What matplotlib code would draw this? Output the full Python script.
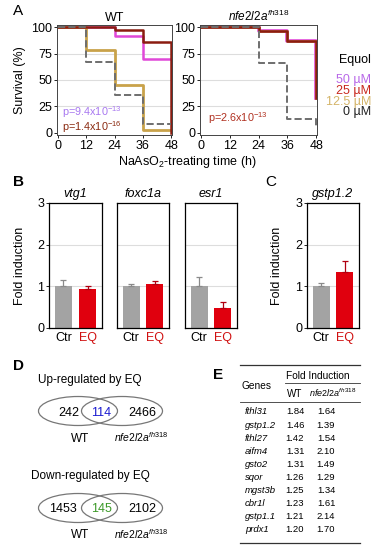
import matplotlib
matplotlib.use('Agg')
import matplotlib.pyplot as plt
from matplotlib.patches import Ellipse

plt.rcParams['font.family'] = ['Liberation Sans', 'DejaVu Sans']
plt.rcParams['mathtext.fontset'] = 'custom'
plt.rcParams['mathtext.rm'] = 'Liberation Sans'
plt.rcParams['mathtext.it'] = 'Liberation Sans:italic'
plt.rcParams['mathtext.bf'] = 'Liberation Sans:bold'

# ---- data ----
hours = [0, 12, 24, 36, 48]
dose_labels = ['50 µM', '25 µM', '12.5 µM', '0 µM']

wt_50 = [100, 100, 92, 70, 70]
wt_25 = [100, 100, 97, 86, 0]
wt_12 = [100, 78, 45, 3, 3]
wt_0 = [100, 67, 36, 8, 8]

nfe_50 = [100, 100, 96, 87, 33]
nfe_25 = [100, 100, 96, 87, 33]
nfe_12 = [100, 100, 96, 87, 33]
nfe_0 = [100, 100, 66, 13, 5]

wt_pvals = ['p=9.4x10$^{-13}$', 'p=1.4x10$^{-16}$']
nfe_pval = 'p=2.6x10$^{-13}$'

bar_genes = ['vtg1', 'foxc1a', 'esr1']
groups = ['Ctr', 'EQ']
ctr_mean = [1.0, 1.0, 1.0]
ctr_err = [0.15, 0.05, 0.23]
eq_mean = [0.93, 1.05, 0.47]
eq_err = [0.07, 0.07, 0.15]

gstp_mean = [1.0, 1.35]
gstp_err = [0.08, 0.25]

venn_up = [242, 114, 2466]
venn_down = [1453, 145, 2102]

tab_genes = ['fthl31', 'gstp1.2', 'fthl27', 'aifm4', 'gsto2', 'sqor',
             'mgst3b', 'cbr1l', 'gstp1.1', 'prdx1']
tab_wt = ['1.84', '1.46', '1.42', '1.31', '1.31', '1.26', '1.25', '1.23', '1.21', '1.20']
tab_nfe = ['1.64', '1.39', '1.54', '2.10', '1.49', '1.29', '1.34', '1.61', '2.14', '1.70']

# ---- style ----
c50, c25, c12, c0 = '#e048d8', '#8b1c10', '#c9a24a', '#6e6e6e'
lab_cols = ['#b868e8', '#c8281e', '#d4b468', '#222222']
gray_bar, red_bar = '#a3a3a3', '#e0000e'
TS = 9

W, H = 375, 550
fig = plt.figure(figsize=(W / 100, H / 100), dpi=100)


def box(x0, y0, x1, y1):
    return [x0 / W, 1 - y1 / H, (x1 - x0) / W, (y1 - y0) / H]


nfe_title = r'$\mathit{nfe2l2a}^{\mathit{fh318}}$'

# ---- panel A ----
def surv_axes(rect, curves, show_ylabel):
    ax = fig.add_axes(rect)
    for vals, col, ls, lw in curves:
        ax.step(hours, vals, where='post', color=col, ls=ls, lw=lw)
    ax.set_xlim(-0.3, 48.3)
    ax.set_ylim(-2, 102)
    ax.set_xticks(hours)
    ax.set_yticks([0, 25, 50, 75, 100])
    for y in [25, 50, 75]:
        ax.axhline(y, color='#dddddd', lw=0.8, zorder=0)
    ax.tick_params(labelsize=TS, length=2, width=0.6, pad=1.5)
    for s in ax.spines.values():
        s.set_linewidth(0.7)
        s.set_color('#444444')
    if show_ylabel:
        ax.set_ylabel('Survival (%)', fontsize=TS)
        ax.yaxis.set_label_coords(-(57 - 26) / 115, 0.5)
    return ax


ax_wt = surv_axes(box(57, 25, 172, 135),
                  [(wt_50, c50, '-', 1.8), (wt_12, c12, '-', 2.0),
                   (wt_25, c25, '-', 1.8), (wt_0, c0, '--', 1.4)], True)
ax_wt.set_title('WT', fontsize=TS, pad=3)
ax_wt.text(2, 21.5, wt_pvals[0], color='#a878f0', fontsize=7.8, va='center_baseline')
ax_wt.text(2, 7, wt_pvals[1], color='#8b2a10', fontsize=7.8, va='center_baseline')

ax_nfe = surv_axes(box(200, 25, 317, 135),
                   [(nfe_50, c50, '-', 2.6), (nfe_12, c12, '-', 1.8),
                    (nfe_25, c25, '-', 1.8), (nfe_0, c0, '--', 1.4)], False)
ax_nfe.set_title(nfe_title, fontsize=8.5, pad=3)
ax_nfe.text(3, 16, nfe_pval, color='#b03020', fontsize=7.8, va='center_baseline')

fig.text(187 / W, 1 - 162 / H, r'NaAsO$_2$-treating time (h)', fontsize=TS,
         ha='center', va='center')
fig.text(371 / W, 1 - 60 / H, 'Equol', fontsize=TS, ha='right', va='center')
for i, (lab, col) in enumerate(zip(dose_labels, lab_cols)):
    fig.text(371 / W, 1 - (80 + 10.8 * i) / H, lab, fontsize=TS, color=col,
             ha='right', va='center')
fig.text(13 / W, 1 - 11 / H, 'A', fontsize=11, ha='left', va='center')

# ---- panel B / C ----
def bar_axes(rect, means, errs, title, show_y, lab_x):
    ax = fig.add_axes(rect)
    x = [0, 1]
    cols = [gray_bar, red_bar]
    ecols = ['#8a8a8a', '#b00010']
    for xi, m, e, c, ec in zip(x, means, errs, cols, ecols):
        ax.bar(xi, m, width=0.72, color=c, zorder=2)
        ax.errorbar(xi, m, yerr=[[0], [e]], ecolor=ec, elinewidth=0.9,
                    capsize=2, capthick=0.9, zorder=3)
    ax.set_xlim(-0.6, 1.6)
    ax.set_ylim(0, 3)
    ax.set_yticks([0, 1, 2, 3])
    for y in [1, 2]:
        ax.axhline(y, color='#dddddd', lw=0.8, zorder=0)
    ax.set_xticks(x)
    ax.set_xticklabels(groups, fontsize=TS)
    ax.get_xticklabels()[1].set_color('#d01010')
    ax.tick_params(axis='x', length=0, pad=3)
    ax.tick_params(axis='y', labelsize=TS, length=2, width=0.6, pad=1.5)
    if not show_y:
        ax.set_yticklabels([])
        ax.tick_params(axis='y', length=0)
    else:
        ax.set_ylabel('Fold induction', fontsize=TS)
        ax.yaxis.set_label_coords(lab_x, 0.5)
    ax.set_title(title, fontsize=TS, style='italic', pad=4)
    for s in ax.spines.values():
        s.set_linewidth(0.9)
    return ax


b_rects = [box(49, 203, 102, 328), box(117, 203, 169, 328), box(185, 203, 237, 328)]
for i, g in enumerate(bar_genes):
    bar_axes(b_rects[i], [ctr_mean[i], eq_mean[i]], [ctr_err[i], eq_err[i]], g,
             i == 0, -(49 - 26) / 53)
bar_axes(box(307, 203, 359, 328), gstp_mean, gstp_err, 'gstp1.2', True,
         -(307 - 283) / 52)

fig.text(13 / W, 1 - 182 / H, 'B', fontsize=11, fontweight='bold', va='center')
fig.text(265 / W, 1 - 182 / H, 'C', fontsize=11, va='center')

# ---- panel D ----
axd = fig.add_axes(box(0, 350, 200, 550))
axd.set_xlim(0, 200)
axd.set_ylim(550, 350)
axd.axis('off')


def venn(yc, vals, mid_col, title, ty, lx):
    axd.text(90, ty, title, fontsize=8.5, ha='center', va='center_baseline')
    axd.add_patch(Ellipse((78, yc), 79, 29, fill=False, ec='#777777', lw=0.9))
    axd.add_patch(Ellipse((122, yc), 81, 29, fill=False, ec='#777777', lw=0.9))
    kw = dict(fontsize=TS, ha='center', va='center_baseline')
    axd.text(lx, yc, str(vals[0]), **kw)
    axd.text(101, yc, str(vals[1]), color=mid_col, **kw)
    axd.text(142, yc, str(vals[2]), **kw)
    axd.text(80, yc + 26, 'WT', fontsize=8.5, ha='center', va='center_baseline')
    axd.text(141, yc + 25, nfe_title, fontsize=7.5, ha='center', va='center_baseline')


venn(411, venn_up, '#1a1ad0', 'Up-regulated by EQ', 378, 69)
venn(508, venn_down, '#3c9a28', 'Down-regulated by EQ', 474, 63)
fig.text(13 / W, 1 - 366 / H, 'D', fontsize=11, fontweight='bold', va='center')

# ---- panel E ----
axe = fig.add_axes(box(200, 350, 375, 550))
axe.set_xlim(200, 375)
axe.set_ylim(550, 350)
axe.axis('off')
fs = 6.8
axe.plot([240, 360], [365, 365], color='#333333', lw=0.9)
axe.plot([285, 360], [383, 383], color='#333333', lw=0.6)
axe.plot([240, 360], [402, 402], color='#333333', lw=0.6)
axe.plot([240, 360], [543, 543], color='#333333', lw=0.9)
kc = dict(ha='center', va='center_baseline')
axe.text(318, 375, 'Fold Induction', fontsize=fs + 0.5, **kc)
axe.text(257, 385, 'Genes', fontsize=fs + 0.5, **kc)
axe.text(295, 393, 'WT', fontsize=fs + 0.3, **kc)
axe.text(333, 392, nfe_title, fontsize=fs - 0.3, **kc)
for i, (g, a, b) in enumerate(zip(tab_genes, tab_wt, tab_nfe)):
    y = 411 + 13.1 * i
    axe.text(245, y, g, fontsize=fs, style='italic', ha='left', va='center_baseline')
    axe.text(295, y, a, fontsize=fs, **kc)
    axe.text(326, y, b, fontsize=fs, **kc)
fig.text(213 / W, 1 - 375 / H, 'E', fontsize=11, fontweight='bold', va='center')

fig.savefig('out.png', dpi=100)
plt.close()
